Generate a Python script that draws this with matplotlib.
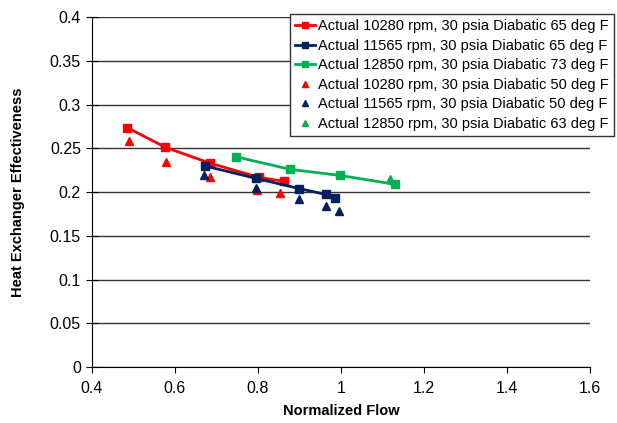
import matplotlib.pyplot as plt

plt.rcParams['font.family'] = ['Liberation Sans', 'DejaVu Sans']

RED = "#FF0000"
NAVY = "#002060"
GREEN = "#00B050"

# lines with square markers
flow_10280_65 = [0.485, 0.577, 0.685, 0.802, 0.862]
eff_10280_65 = [0.2735, 0.251, 0.2328, 0.2168, 0.2122]
flow_11565_65 = [0.673, 0.795, 0.900, 0.963, 0.985]
eff_11565_65 = [0.2297, 0.2156, 0.2038, 0.1973, 0.1928]
flow_12850_73 = [0.746, 0.877, 0.997, 1.130]
eff_12850_73 = [0.2404, 0.2259, 0.2190, 0.2088]

# triangle-only series
flow_10280_50 = [0.488, 0.579, 0.685, 0.798, 0.852]
eff_10280_50 = [0.258, 0.234, 0.2168, 0.2023, 0.199]
flow_11565_50 = [0.671, 0.794, 0.898, 0.963, 0.995]
eff_11565_50 = [0.2198, 0.205, 0.1916, 0.184, 0.1787]
flow_12850_63 = [1.117]
eff_12850_63 = [0.2145]

fig = plt.figure(figsize=(6.17, 4.23), dpi=100)
ax = fig.add_axes([92 / 617, 1 - 367 / 423, (590 - 92) / 617, (367 - 17) / 423])

ax.plot(flow_10280_65, eff_10280_65, "-s", color=RED, lw=2, ms=6,
        label="Actual 10280 rpm, 30 psia Diabatic 65 deg F")
ax.plot(flow_11565_65, eff_11565_65, "-s", color=NAVY, lw=2, ms=6,
        label="Actual 11565 rpm, 30 psia Diabatic 65 deg F")
ax.plot(flow_12850_73, eff_12850_73, "-s", color=GREEN, lw=2, ms=6,
        label="Actual 12850 rpm, 30 psia Diabatic 73 deg F")
ax.plot(flow_10280_50, eff_10280_50, "^", color=RED, ms=5.5, ls="none",
        label="Actual 10280 rpm, 30 psia Diabatic 50 deg F")
ax.plot(flow_11565_50, eff_11565_50, "^", color=NAVY, ms=5.5, ls="none",
        label="Actual 11565 rpm, 30 psia Diabatic 50 deg F")
ax.plot(flow_12850_63, eff_12850_63, "^", color=GREEN, ms=5.5, ls="none",
        label="Actual 12850 rpm, 30 psia Diabatic 63 deg F")

ax.set_xlim(0.4, 1.6)
ax.set_ylim(0, 0.4)
ax.set_xticks([0.4, 0.6, 0.8, 1.0, 1.2, 1.4, 1.6])
ax.set_xticklabels(["0.4", "0.6", "0.8", "1", "1.2", "1.4", "1.6"])
ax.set_yticks([0, 0.05, 0.1, 0.15, 0.2, 0.25, 0.3, 0.35, 0.4])
ax.set_yticklabels(["0", "0.05", "0.1", "0.15", "0.2", "0.25", "0.3", "0.35", "0.4"])
ax.tick_params(axis="x", labelsize=11.5, direction="out", length=4, color="black", pad=6)
ax.tick_params(axis="y", labelsize=11.5, direction="inout", length=8, color="black", pad=4)
ax.yaxis.grid(True, color="#333333", lw=1)
ax.set_axisbelow(True)
for s in ["top", "right"]:
    ax.spines[s].set_visible(False)
for s in ["left", "bottom"]:
    ax.spines[s].set_color("black")

ax.set_xlabel("Normalized Flow", fontsize=10.5, fontweight="bold", labelpad=6)
ax.set_ylabel("Heat Exchanger Effectiveness", fontsize=10.5, fontweight="bold", labelpad=18)

leg = fig.legend(loc="upper right", bbox_to_anchor=(614 / 617, 1 - 14 / 423),
                 fontsize=10.5, frameon=True, fancybox=False, framealpha=1,
                 edgecolor="#333333", handlelength=1.4, handletextpad=0.2,
                 labelspacing=0.38, borderpad=0.35, borderaxespad=0,
                 markerscale=0.7)
leg.get_frame().set_linewidth(1)

fig.savefig("out.png", dpi=100)
